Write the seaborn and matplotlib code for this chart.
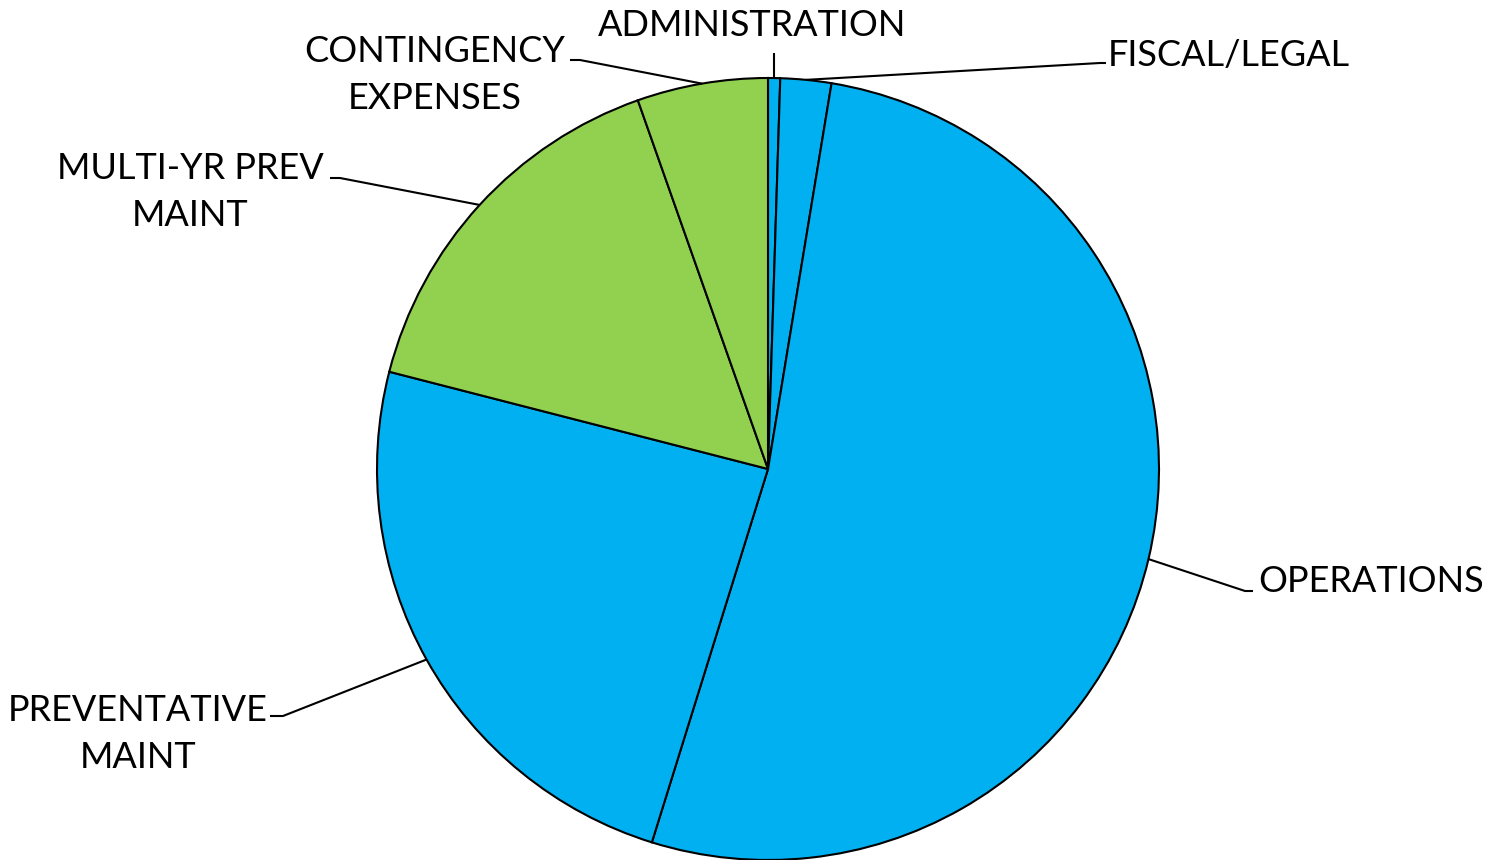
import numpy as np
import matplotlib
matplotlib.use("Agg")
import matplotlib.pyplot as plt
import seaborn as sns

categories = ["ADMINISTRATION", "FISCAL/LEGAL", "OPERATIONS", "PREVENTATIVE\nMAINT",
              "MULTI-YR PREV\nMAINT", "CONTINGENCY\nEXPENSES"]
shares = [0.5, 2.1, 52.2, 24.2, 15.6, 5.4]
colors = ["#00B0F0", "#00B0F0", "#00B0F0", "#00B0F0", "#92D050", "#92D050"]

sns.set_theme(style="white")
plt.rcParams["font.family"] = ["Lato", "DejaVu Sans"]

W, H = 1489, 860
fig = plt.figure(figsize=(W / 100, H / 100), dpi=100)
ax = fig.add_axes([0, 0, 1, 1])

cx, cy, R = 768, 391, 391
wedges, _ = ax.pie(shares, colors=colors, startangle=90, counterclock=False,
                   center=(cx, cy), radius=R, frame=True,
                   wedgeprops=dict(edgecolor="black", linewidth=1.5))
ax.set_xlim(0, W)
ax.set_ylim(0, H)
ax.axis("off")

# label layout: (text x, text y, ha, elbow points)
layout = [
    (752, 835, "center", [(775, 807)]),
    (1108, 805, "left", [(1100, 797), (1106, 797)]),
    (1258, 279, "left", [(1245, 269), (1253, 269)]),
    (138, 126, "center", [(283, 144), (270, 144)]),
    (190, 668, "center", [(340, 682), (330, 682)]),
    (435, 785, "center", [(580, 800), (570, 800)]),
]

for w, lab, (tx, ty, ha, pts) in zip(wedges, categories, layout):
    mid = np.deg2rad((w.theta1 + w.theta2) / 2)
    ex = w.center[0] + w.r * np.cos(mid)
    ey = w.center[1] + w.r * np.sin(mid)
    xs = [ex] + [p[0] for p in pts]
    ys = [ey] + [p[1] for p in pts]
    if len(pts) == 1:
        xs[1] = ex
    ax.plot(xs, ys, color="black", lw=1.5, solid_capstyle="butt")
    ax.text(tx, ty, lab, ha=ha, va="center", fontsize=26, color="black",
            linespacing=1.55, multialignment="center")

fig.savefig("out.png", dpi=100, facecolor="white")
